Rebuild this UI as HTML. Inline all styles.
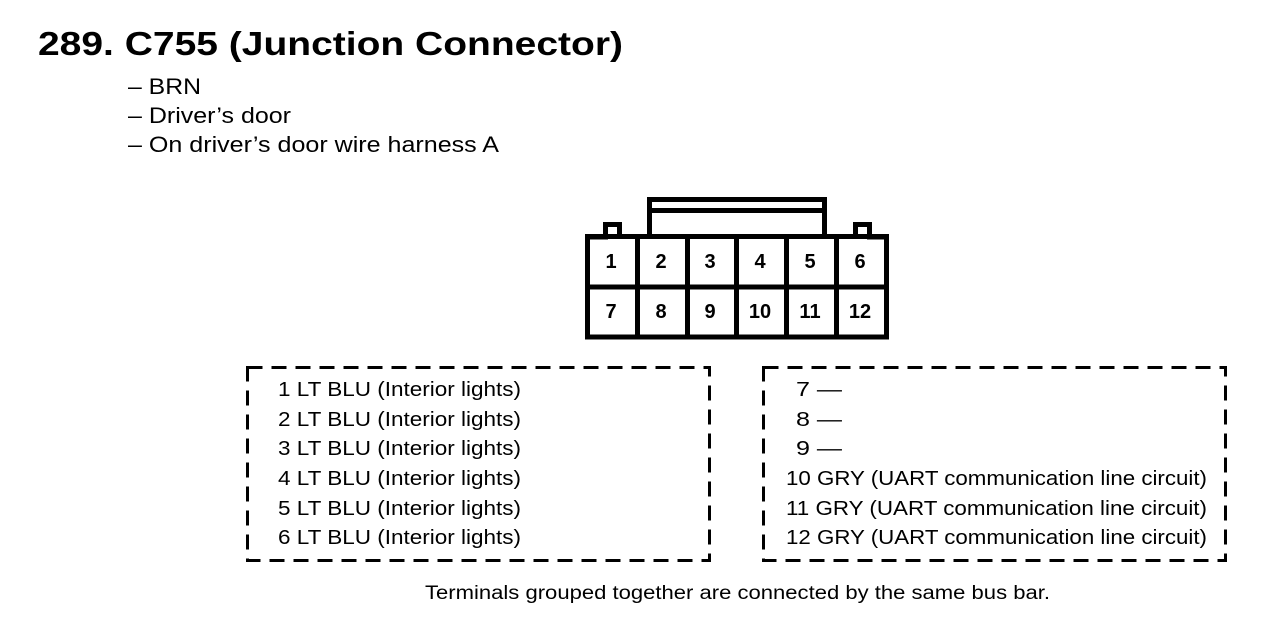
<!DOCTYPE html>
<html><head><meta charset="utf-8"><style>
html,body{margin:0;padding:0;background:#fff;}
svg{display:block;}
text{font-family:"Liberation Sans",Arial,sans-serif;fill:#000;}
</style></head><body>
<svg width="1280" height="640" viewBox="0 0 1280 640" xmlns="http://www.w3.org/2000/svg">
<text x="38" y="55" font-size="33" font-weight="bold" textLength="585" lengthAdjust="spacingAndGlyphs">289. C755 (Junction Connector)</text>
<text x="128" y="94" font-size="22" textLength="73" lengthAdjust="spacingAndGlyphs">– BRN</text>
<text x="128" y="123" font-size="22" textLength="163" lengthAdjust="spacingAndGlyphs">– Driver’s door</text>
<text x="128" y="152" font-size="22" textLength="371" lengthAdjust="spacingAndGlyphs">– On driver’s door wire harness A</text>

<g fill="none" stroke="#000" stroke-width="5">
  <path d="M649.5 237 V199.5 H824.5 V237"/>
  <line x1="649.5" y1="210.5" x2="824.5" y2="210.5"/>
  <path d="M587.5 237 H605.5 V224.5 H619.5 V237"/>
  <path d="M855.5 237 V224.5 H869.5 V237 H886.5"/>
  <rect x="587.5" y="236.5" width="299" height="100.5"/>
  <line x1="587.5" y1="287" x2="886.5" y2="287"/>
  <line x1="637.5" y1="236.5" x2="637.5" y2="337"/>
  <line x1="687.5" y1="236.5" x2="687.5" y2="337"/>
  <line x1="736.5" y1="236.5" x2="736.5" y2="337"/>
  <line x1="786.5" y1="236.5" x2="786.5" y2="337"/>
  <line x1="836.5" y1="236.5" x2="836.5" y2="337"/>
</g>
<g font-size="20" font-weight="bold" text-anchor="middle">
  <text x="611" y="268">1</text><text x="661" y="268">2</text><text x="710" y="268">3</text><text x="760" y="268">4</text><text x="810" y="268">5</text><text x="860" y="268">6</text>
  <text x="611" y="318">7</text><text x="661" y="318">8</text><text x="710" y="318">9</text><text x="760" y="318">10</text><text x="810" y="318">11</text><text x="860" y="318">12</text>
</g>

<g fill="none" stroke="#000" stroke-width="3" stroke-dasharray="15 9">
  <rect x="247.5" y="367.5" width="462" height="193"/>
  <rect x="763.5" y="367.5" width="462" height="193"/>
</g>

<g font-size="20">
  <text x="278" y="396" textLength="243" lengthAdjust="spacingAndGlyphs">1  LT BLU (Interior lights)</text>
  <text x="278" y="426" textLength="243" lengthAdjust="spacingAndGlyphs">2  LT BLU (Interior lights)</text>
  <text x="278" y="455" textLength="243" lengthAdjust="spacingAndGlyphs">3  LT BLU (Interior lights)</text>
  <text x="278" y="485" textLength="243" lengthAdjust="spacingAndGlyphs">4  LT BLU (Interior lights)</text>
  <text x="278" y="515" textLength="243" lengthAdjust="spacingAndGlyphs">5  LT BLU (Interior lights)</text>
  <text x="278" y="544" textLength="243" lengthAdjust="spacingAndGlyphs">6  LT BLU (Interior lights)</text>

  <text x="796" y="396" textLength="46" lengthAdjust="spacingAndGlyphs">7 —</text>
  <text x="796" y="426" textLength="46" lengthAdjust="spacingAndGlyphs">8 —</text>
  <text x="796" y="455" textLength="46" lengthAdjust="spacingAndGlyphs">9 —</text>
  <text x="786" y="485" textLength="421" lengthAdjust="spacingAndGlyphs">10  GRY (UART communication line circuit)</text>
  <text x="786" y="515" textLength="421" lengthAdjust="spacingAndGlyphs">11  GRY (UART communication line circuit)</text>
  <text x="786" y="544" textLength="421" lengthAdjust="spacingAndGlyphs">12  GRY (UART communication line circuit)</text>
</g>
<text x="425" y="599" font-size="19" textLength="625" lengthAdjust="spacingAndGlyphs">Terminals grouped together are connected by the same bus bar.</text>
</svg>
</body></html>
